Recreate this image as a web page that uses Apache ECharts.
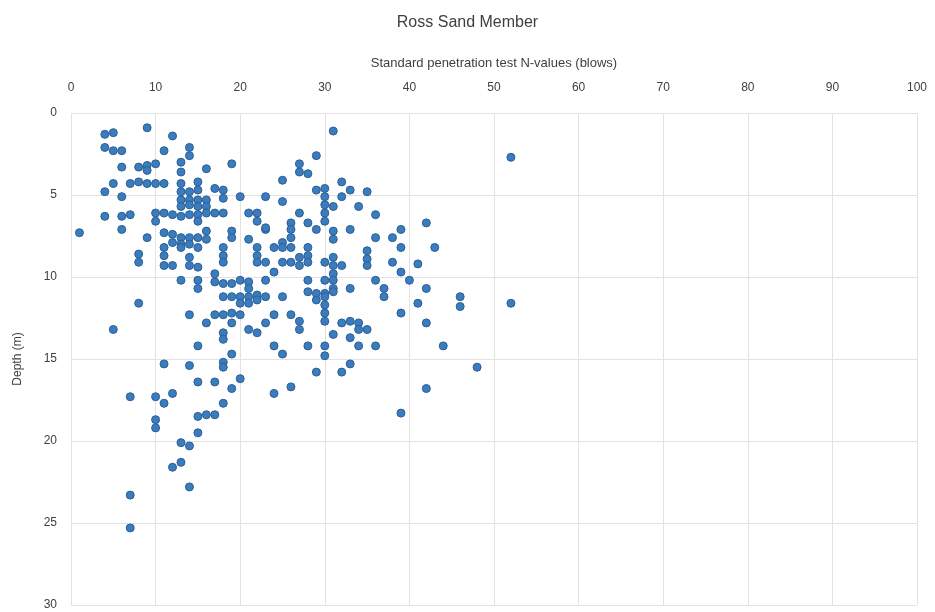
<!DOCTYPE html>
<html>
<head>
<meta charset="utf-8">
<script src="https://cdn.jsdelivr.net/npm/echarts@6/dist/echarts.min.js"></script>
<style>
html,body{margin:0;padding:0;background:#fff;}
#chart{width:935px;height:612px;}
</style>
</head>
<body>
<div id="chart"></div>
<script>
// Standard penetration test N-values (blows)
const nValues = [
 9,4,5,31,12,4,5,6,11,14,14,52,29,6,8,9,10,9,13,13,16,19,27,27,28,
 5,7,8,9,10,11,13,13,14,15,15,25,32,4,6,13,14,15,13,14,15,16,16,17,18,18,20,29,30,30,33,35,23,25,30,31,32,34,
 4,6,7,10,11,12,13,14,15,16,17,18,15,21,22,22,27,30,30,36,42,10,
 1,6,9,11,12,13,14,15,12,13,14,16,16,19,19,21,23,23,26,26,28,29,33,31,31,36,39,38,25,26,
 8,8,11,11,11,12,13,15,14,14,15,18,18,18,22,22,24,25,26,28,28,39,43,35,35,35,22,23,25,26,27,28,27,30,31,31,32,31,38,39,41,24,17,
 13,15,15,17,18,19,20,21,21,23,28,30,31,31,33,36,37,37,40,42,
 18,19,20,21,22,23,20,21,22,25,28,29,30,31,29,30,30,8,41,46,46,52,39,
 14,16,17,18,19,20,19,21,22,24,23,26,27,27,30,30,32,33,34,34,35,42,5,
 18,18,31,33,15,24,25,28,30,30,34,36,44,19,11,14,18,18,33,32,29,48,
 15,17,20,19,26,24,42,7,10,11,12,18,15,16,17,39,10,10,15,13,14,13,12,14,7,7
];
// Depth (m)
const depths = [
 0.9,1.3,1.2,1.1,1.4,2.1,2.3,2.3,2.3,2.1,2.6,2.7,2.6,3.3,3.3,3.2,3.1,3.5,3.0,3.6,3.4,3.1,3.1,3.6,3.7,
 4.3,4.3,4.2,4.3,4.3,4.3,4.3,4.8,4.8,4.2,4.7,4.1,4.2,4.8,5.1,5.3,5.3,5.3,5.7,5.6,5.7,5.3,5.7,4.6,4.7,5.2,5.1,4.7,4.6,5.1,4.7,4.8,5.1,5.4,5.6,5.7,5.1,5.7,
 6.3,6.3,6.2,6.1,6.1,6.2,6.3,6.2,6.2,6.1,6.1,6.1,6.6,6.1,6.1,6.6,6.1,6.1,6.6,6.2,6.7,6.6,
 7.3,7.1,7.6,7.3,7.4,7.6,7.6,7.6,7.9,8.0,8.0,7.2,7.7,7.2,7.6,7.7,7.1,7.0,6.7,7.1,6.7,7.1,7.1,7.2,7.7,7.6,7.1,7.6,7.9,7.6,
 8.6,9.1,8.2,8.7,9.3,9.3,8.2,8.2,8.8,9.3,9.4,8.2,8.7,9.1,8.2,8.7,8.2,8.2,8.2,8.2,8.7,8.2,8.2,8.4,8.9,9.3,9.1,9.1,9.1,9.1,9.3,9.1,8.8,9.1,8.8,9.3,9.3,9.8,9.1,9.7,9.2,9.7,9.8,
 10.2,10.2,10.7,10.3,10.4,10.4,10.2,10.3,10.7,10.2,10.2,10.2,10.2,10.7,10.7,10.2,10.7,11.2,10.2,10.7,
 11.2,11.2,11.2,11.2,11.1,11.2,11.6,11.6,11.4,11.2,10.9,11.0,11.0,10.9,11.4,11.2,11.7,11.6,11.6,11.2,11.8,11.6,12.2,
 12.3,12.8,12.3,12.3,12.2,12.3,12.8,13.2,13.4,12.3,12.8,12.3,12.7,13.2,12.2,12.7,12.8,12.7,12.8,13.2,13.2,12.8,13.2,
 13.4,13.8,13.5,13.7,14.2,14.2,14.7,14.2,14.2,14.8,14.2,14.2,14.2,14.7,15.3,15.4,15.2,15.5,15.3,15.8,15.8,15.5,
 16.4,16.4,16.2,16.8,16.7,17.1,16.8,17.3,17.3,17.7,17.1,17.7,18.5,18.4,18.4,18.3,18.7,19.2,19.5,20.1,20.3,21.3,21.6,22.8,23.3,25.3
];
const xTicks = {min: 0, max: 100, step: 10};
const yTicks = {min: 0, max: 30, step: 5};
const titleText = 'Ross Sand Member';
const xName = 'Standard penetration test N-values (blows)';
const yName = 'Depth (m)';

const points = nValues.map((n, i) => [n, depths[i]]);

const chart = echarts.init(document.getElementById('chart'));
const txt = '#404040';
const font = 'Liberation Sans, Arial, sans-serif';
chart.setOption({
  backgroundColor: '#ffffff',
  animation: false,
  title: {
    text: titleText, left: 'center', top: 10,
    textStyle: {fontSize: 16, fontWeight: 'normal', color: txt, fontFamily: font}
  },
  grid: {left: 71, right: 18, top: 113, bottom: 7, containLabel: false},
  xAxis: {
    type: 'value', position: 'top',
    min: xTicks.min, max: xTicks.max, interval: xTicks.step,
    name: xName, nameLocation: 'middle', nameGap: 43,
    nameTextStyle: {fontSize: 13, color: txt, fontFamily: font},
    axisLine: {show: false}, axisTick: {show: false},
    axisLabel: {fontSize: 12, color: txt, fontFamily: font, margin: 19},
    splitLine: {show: true, lineStyle: {color: '#e2e2e2', width: 1}}
  },
  yAxis: {
    type: 'value', inverse: true,
    min: yTicks.min, max: yTicks.max, interval: yTicks.step,
    name: yName, nameLocation: 'middle', nameGap: 47, nameRotate: 90,
    nameTextStyle: {fontSize: 12, color: txt, fontFamily: font},
    axisLine: {show: false}, axisTick: {show: false},
    axisLabel: {fontSize: 12, color: txt, fontFamily: font, margin: 14},
    splitLine: {show: true, lineStyle: {color: '#e2e2e2', width: 1}}
  },
  series: [{
    type: 'scatter',
    data: points,
    symbolSize: 8,
    itemStyle: {color: '#3a7cbd', borderColor: '#2c5f94', borderWidth: 1, opacity: 1}
  }]
});
</script>
</body>
</html>
